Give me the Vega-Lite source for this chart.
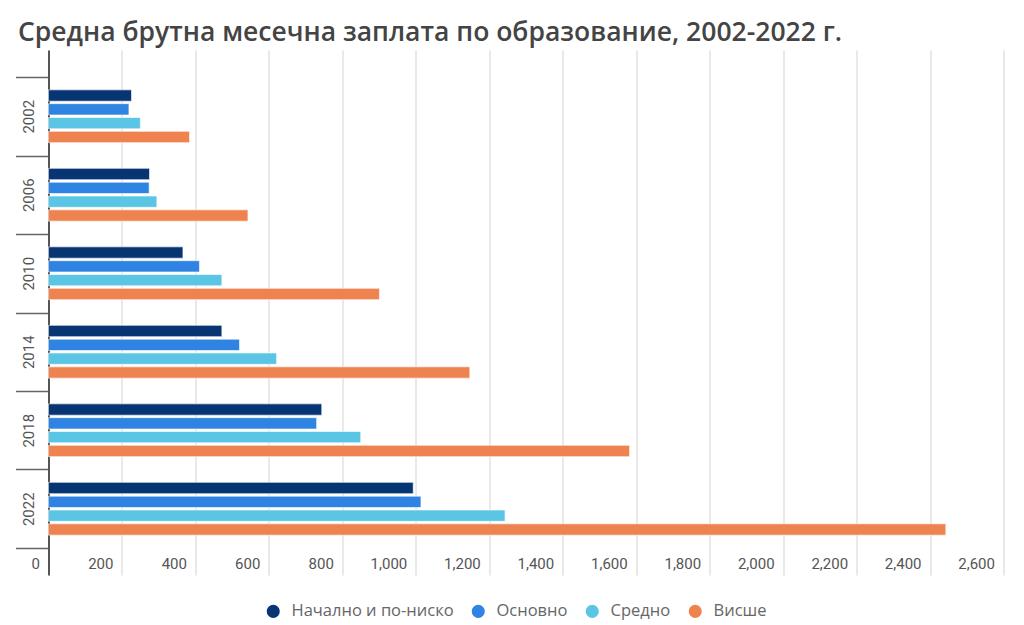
{
  "$schema": "https://vega.github.io/schema/vega-lite/v6.json",
  "autosize": {"type": "none"},
  "width": 955,
  "height": 525,
  "padding": {"left": 48.5, "top": 50, "right": 20.5, "bottom": 50},
  "background": "white",
  "title": {
    "text": "Средна брутна месечна заплата по образование, 2002-2022 г.",
    "anchor": "start",
    "frame": "group",
    "dx": -30.5,
    "dy": 27,
    "baseline": "alphabetic",
    "offset": 10,
    "font": "Open Sans",
    "fontSize": 26.5,
    "fontWeight": 600,
    "color": "#444444"
  },
  "data": {
    "values": [
      {"year": "2002", "edu": "Начално и по-ниско", "value": 226},
      {"year": "2002", "edu": "Основно", "value": 219},
      {"year": "2002", "edu": "Средно", "value": 250},
      {"year": "2002", "edu": "Висше", "value": 384},
      {"year": "2006", "edu": "Начално и по-ниско", "value": 275},
      {"year": "2006", "edu": "Основно", "value": 274},
      {"year": "2006", "edu": "Средно", "value": 295},
      {"year": "2006", "edu": "Висше", "value": 543},
      {"year": "2010", "edu": "Начално и по-ниско", "value": 366},
      {"year": "2010", "edu": "Основно", "value": 411},
      {"year": "2010", "edu": "Средно", "value": 472},
      {"year": "2010", "edu": "Висше", "value": 901},
      {"year": "2014", "edu": "Начално и по-ниско", "value": 472},
      {"year": "2014", "edu": "Основно", "value": 520},
      {"year": "2014", "edu": "Средно", "value": 621},
      {"year": "2014", "edu": "Висше", "value": 1147},
      {"year": "2018", "edu": "Начално и по-ниско", "value": 744},
      {"year": "2018", "edu": "Основно", "value": 730},
      {"year": "2018", "edu": "Средно", "value": 850},
      {"year": "2018", "edu": "Висше", "value": 1582},
      {"year": "2022", "edu": "Начално и по-ниско", "value": 993},
      {"year": "2022", "edu": "Основно", "value": 1014},
      {"year": "2022", "edu": "Средно", "value": 1243},
      {"year": "2022", "edu": "Висше", "value": 2443}
    ]
  },
  "mark": {"type": "bar", "stroke": "white", "strokeWidth": 1, "strokeOpacity": 0.6},
  "encoding": {
    "y": {
      "field": "year",
      "type": "nominal",
      "sort": ["2002", "2006", "2010", "2014", "2018", "2022"],
      "scale": {"paddingInner": 0, "paddingOuter": 0.344},
      "axis": {
        "title": null,
        "domain": true,
        "domainColor": "#555555",
        "domainWidth": 2,
        "ticks": true,
        "tickBand": "extent",
        "tickSize": 33,
        "tickColor": "#666666",
        "tickWidth": 1.5,
        "labelAngle": -90,
        "labelAlign": "center",
        "labelBaseline": "middle",
        "labelPadding": -13,
        "labelFont": "Roboto",
        "labelFontSize": 15,
        "labelColor": "#555555",
        "grid": false
      }
    },
    "yOffset": {
      "field": "edu",
      "type": "nominal",
      "sort": ["Начално и по-ниско", "Основно", "Средно", "Висше"],
      "scale": {"paddingInner": 0.18, "paddingOuter": 0.93}
    },
    "x": {
      "field": "value",
      "type": "quantitative",
      "scale": {"domain": [0, 2600], "nice": false},
      "axis": {
        "title": null,
        "domain": false,
        "ticks": false,
        "grid": true,
        "gridColor": "#e2e2e2",
        "gridWidth": 1.5,
        "values": [0, 200, 400, 600, 800, 1000, 1200, 1400, 1600, 1800, 2000, 2200, 2400, 2600],
        "format": ",d",
        "labelAlign": "right",
        "labelBaseline": "middle",
        "labelOffset": -9,
        "labelPadding": -11.5,
        "labelFont": "Roboto",
        "labelFontSize": 15,
        "labelColor": "#555555",
        "labelFlush": false,
        "labelOverlap": false
      }
    },
    "color": {
      "field": "edu",
      "type": "nominal",
      "sort": ["Начално и по-ниско", "Основно", "Средно", "Висше"],
      "scale": {
        "domain": ["Начално и по-ниско", "Основно", "Средно", "Висше"],
        "range": ["#073573", "#2e83e3", "#5bc5e6", "#ef8350"]
      },
      "legend": {
        "title": null,
        "orient": "none",
        "legendX": 216.5,
        "legendY": 553,
        "direction": "horizontal",
        "symbolType": "circle",
        "symbolSize": 170,
        "symbolStrokeWidth": 0,
        "labelFont": "Open Sans",
        "labelFontSize": 16.5,
        "labelColor": "#666666",
        "labelOffset": 10,
        "labelLimit": 300,
        "columnPadding": 16
      }
    }
  },
  "config": {
    "view": {"stroke": null}
  }
}
